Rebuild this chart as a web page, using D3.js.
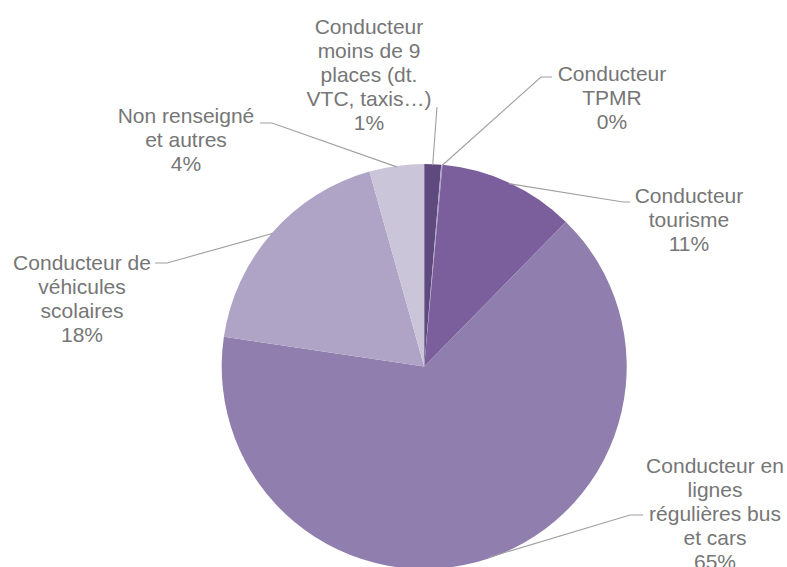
<!DOCTYPE html>
<html>
<head>
<meta charset="utf-8">
<script src="https://cdn.jsdelivr.net/npm/d3@7"></script>
<style>
  html, body { margin: 0; padding: 0; background: #ffffff; }
  svg { display: block; }
  text { font-family: "Liberation Sans", Arial, sans-serif; }
</style>
</head>
<body>
<svg id="chart" width="787" height="567"></svg>
<script>
// ---- Data ----
const categories = [
  "Conducteur moins de 9 places (dt. VTC, taxis…)",
  "Conducteur TPMR",
  "Conducteur tourisme",
  "Conducteur en lignes régulières bus et cars",
  "Conducteur de véhicules scolaires",
  "Non renseigné et autres"
];
const values = [1.34, 0.1, 10.9, 65.0, 18.3, 4.36];
const percentLabels = ["1%", "0%", "11%", "65%", "18%", "4%"];
const labelLines = [
  ["Conducteur", "moins de 9", "places (dt.", "VTC, taxis…)"],
  ["Conducteur", "TPMR"],
  ["Conducteur", "tourisme"],
  ["Conducteur en", "lignes", "régulières bus", "et cars"],
  ["Conducteur de", "véhicules", "scolaires"],
  ["Non renseigné", "et autres"]
];

// ---- Styles / layout ----
const colors = ["#5f4a7f", "#b3a6c8", "#7b5f9d", "#8f7eae", "#afa4c5", "#cbc5da"];
const cx = 424.2, cy = 366.5, R = 202.5;
const fontSize = 21, lineH = 24;
// label text anchor (centre x, first-line centre y) and leader-line points
const labelLayout = [
  { x: 369, y: 26,  leader: [[437, 107]] },
  { x: 612, y: 73,  leader: [[541, 77], [552, 77]] },
  { x: 689, y: 195, leader: [[623, 202], [630, 202]] },
  { x: 715, y: 465, leader: [[630, 515], [643, 515]] },
  { x: 82,  y: 262, leader: [[167, 263], [155, 263]] },
  { x: 186, y: 115, leader: [[272, 123], [260, 123]] }
];

const svg = d3.select("#chart");
const data = categories.map((c, i) => ({ cat: c, value: values[i], idx: i }));

const pie = d3.pie().value(d => d.value).sort(null).startAngle(0).endAngle(2 * Math.PI);
const arcs = pie(data);
const arc = d3.arc().innerRadius(0).outerRadius(R);
const edgeArc = d3.arc().innerRadius(R - 1).outerRadius(R - 1);

const g = svg.append("g").attr("transform", `translate(${cx},${cy})`);
g.selectAll("path.slice")
  .data(arcs)
  .join("path")
  .attr("class", "slice")
  .attr("d", arc)
  .attr("fill", d => colors[d.data.idx]);

// leader lines
const line = d3.line();
svg.append("g").selectAll("path.leader")
  .data(arcs)
  .join("path")
  .attr("class", "leader")
  .attr("fill", "none")
  .attr("stroke", "#a0a0a0")
  .attr("stroke-width", 1.1)
  .attr("d", d => {
    const c = edgeArc.centroid(d);
    const start = [cx + c[0], cy + c[1]];
    return line([start, ...labelLayout[d.data.idx].leader]);
  });

// labels
const lg = svg.append("g");
arcs.forEach(d => {
  const i = d.data.idx;
  const L = labelLayout[i];
  const lines = labelLines[i].concat([percentLabels[i]]);
  const t = lg.append("text")
    .attr("text-anchor", "middle")
    .attr("font-size", fontSize)
    .attr("fill", "#767676");
  lines.forEach((s, k) => {
    t.append("tspan")
      .attr("x", L.x)
      .attr("y", L.y + k * lineH)
      .attr("dominant-baseline", "central")
      .text(s);
  });
});
</script>
</body>
</html>
